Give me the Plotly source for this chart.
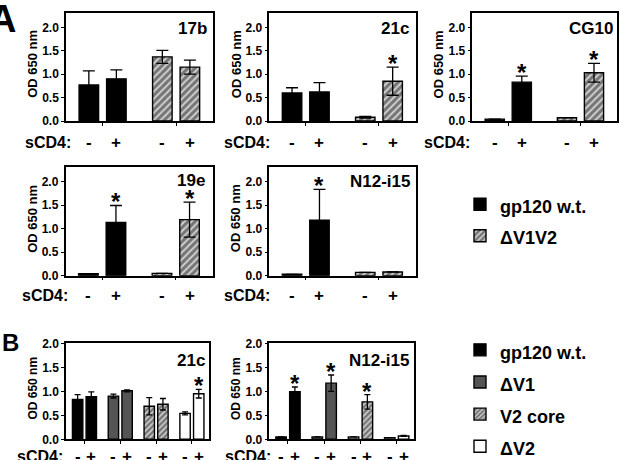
import plotly.graph_objects as go

W, H = 620, 460

# ---------------- data ----------------
sCD4_labels = ["-", "+"]
y_ticks = [0.0, 0.5, 1.0, 1.5, 2.0]

# Panel A  (OD 650 nm; first value = no sCD4, second = with sCD4)
a_17b_wt = [0.77, 0.90]
a_17b_wt_err = [0.30, 0.19]
a_17b_wt_sig = [0, 0]
a_17b_dv1v2 = [1.37, 1.15]
a_17b_dv1v2_err = [0.14, 0.15]
a_17b_dv1v2_sig = [0, 0]

a_21c_wt = [0.60, 0.62]
a_21c_wt_err = [0.11, 0.20]
a_21c_wt_sig = [0, 0]
a_21c_dv1v2 = [0.08, 0.85]
a_21c_dv1v2_err = [0.02, 0.30]
a_21c_dv1v2_sig = [0, 1]

a_cg10_wt = [0.04, 0.83]
a_cg10_wt_err = [None, 0.13]
a_cg10_wt_sig = [0, 1]
a_cg10_dv1v2 = [0.07, 1.03]
a_cg10_dv1v2_err = [None, 0.20]
a_cg10_dv1v2_sig = [0, 1]

a_19e_wt = [0.04, 1.13]
a_19e_wt_err = [None, 0.36]
a_19e_wt_sig = [0, 1]
a_19e_dv1v2 = [0.05, 1.19]
a_19e_dv1v2_err = [None, 0.37]
a_19e_dv1v2_sig = [0, 1]

a_n12_wt = [0.03, 1.18]
a_n12_wt_err = [None, 0.65]
a_n12_wt_sig = [0, 1]
a_n12_dv1v2 = [0.07, 0.08]
a_n12_dv1v2_err = [None, None]
a_n12_dv1v2_sig = [0, 0]

# Panel B
b_21c_wt = [0.83, 0.89]
b_21c_wt_err = [0.10, 0.10]
b_21c_wt_sig = [0, 0]
b_21c_dv1 = [0.90, 1.01]
b_21c_dv1_err = [0.04, 0.02]
b_21c_dv1_sig = [0, 0]
b_21c_v2core = [0.69, 0.73]
b_21c_v2core_err = [0.18, 0.12]
b_21c_v2core_sig = [0, 0]
b_21c_dv2 = [0.54, 0.95]
b_21c_dv2_err = [0.03, 0.09]
b_21c_dv2_sig = [0, 1]

b_n12_wt = [0.05, 0.99]
b_n12_wt_err = [None, 0.10]
b_n12_wt_sig = [0, 1]
b_n12_dv1 = [0.05, 1.17]
b_n12_dv1_err = [None, 0.17]
b_n12_dv1_sig = [0, 1]
b_n12_v2core = [0.05, 0.78]
b_n12_v2core_err = [None, 0.15]
b_n12_v2core_sig = [0, 1]
b_n12_dv2 = [0.035, 0.07]
b_n12_dv2_err = [None, 0.01]
b_n12_dv2_sig = [0, 0]

# ---------------- styles ----------------
FONT = "Liberation Sans, Arial, sans-serif"
hatch = dict(shape="/", fgcolor="#1a1a1a", bgcolor="#d0d0d0", size=5, solidity=0.62)
STYLE = {
    "gp120 w.t.": dict(color="#000000"),
    "ΔV1": dict(color="#555555"),
    "ΔV1V2": dict(color="#d0d0d0", pattern=hatch),
    "V2 core": dict(color="#d0d0d0", pattern=dict(hatch, size=4)),
    "ΔV2": dict(color="#ffffff"),
}

def xp(px):
    return px / W

def yp(py):
    return 1 - py / H

# layout of panels (positions in px)
panels = [
    dict(title="17b", kind="A", px=(66, 213), py=(13.3, 121), title_px=(208.5, 28.5),
         sc_right=73, lab_y=142.7, yt_x=31.7,
         series=[("gp120 w.t.", a_17b_wt, a_17b_wt_err, a_17b_wt_sig),
                 ("ΔV1V2", a_17b_dv1v2, a_17b_dv1v2_err, a_17b_dv1v2_sig)]),
    dict(title="21c", kind="A", px=(269.3, 415.7), py=(13.3, 121), title_px=(410.5, 28.5),
         sc_right=271.5, lab_y=142.7, yt_x=236,
         series=[("gp120 w.t.", a_21c_wt, a_21c_wt_err, a_21c_wt_sig),
                 ("ΔV1V2", a_21c_dv1v2, a_21c_dv1v2_err, a_21c_dv1v2_sig)]),
    dict(title="CG10", kind="A", px=(472.3, 616.7), py=(13.3, 121), title_px=(614.5, 28.5),
         sc_right=472, lab_y=142.7, yt_x=438.3,
         series=[("gp120 w.t.", a_cg10_wt, a_cg10_wt_err, a_cg10_wt_sig),
                 ("ΔV1V2", a_cg10_dv1v2, a_cg10_dv1v2_err, a_cg10_dv1v2_sig)]),
    dict(title="19e", kind="A", px=(65.5, 212.7), py=(167.3, 275.7), title_px=(207, 180.5),
         sc_right=70, lab_y=295.7, yt_x=32.3,
         series=[("gp120 w.t.", a_19e_wt, a_19e_wt_err, a_19e_wt_sig),
                 ("ΔV1V2", a_19e_dv1v2, a_19e_dv1v2_err, a_19e_dv1v2_sig)]),
    dict(title="N12-i15", kind="A", px=(269.3, 415.7), py=(167.3, 275.7), title_px=(412, 181.5),
         sc_right=271.5, lab_y=295.7, yt_x=235.7,
         series=[("gp120 w.t.", a_n12_wt, a_n12_wt_err, a_n12_wt_sig),
                 ("ΔV1V2", a_n12_dv1v2, a_n12_dv1v2_err, a_n12_dv1v2_sig)]),
    dict(title="21c", kind="B", px=(66, 209), py=(343.3, 439.3), title_px=(206.5, 360),
         sc_right=65, lab_y=456.7, yt_x=33.3,
         series=[("gp120 w.t.", b_21c_wt, b_21c_wt_err, b_21c_wt_sig),
                 ("ΔV1", b_21c_dv1, b_21c_dv1_err, b_21c_dv1_sig),
                 ("V2 core", b_21c_v2core, b_21c_v2core_err, b_21c_v2core_sig),
                 ("ΔV2", b_21c_dv2, b_21c_dv2_err, b_21c_dv2_sig)]),
    dict(title="N12-i15", kind="B", px=(269.3, 414), py=(343.3, 439.3), title_px=(410.5, 360),
         sc_right=273, lab_y=456.7, yt_x=236.7,
         series=[("gp120 w.t.", b_n12_wt, b_n12_wt_err, b_n12_wt_sig),
                 ("ΔV1", b_n12_dv1, b_n12_dv1_err, b_n12_dv1_sig),
                 ("V2 core", b_n12_v2core, b_n12_v2core_err, b_n12_v2core_sig),
                 ("ΔV2", b_n12_dv2, b_n12_dv2_err, b_n12_dv2_sig)]),
]

fig = go.Figure()
layout = dict(
    width=W, height=H, margin=dict(l=0, r=0, t=0, b=0, autoexpand=False),
    paper_bgcolor="white", plot_bgcolor="white",
    barmode="overlay", font=dict(family=FONT, color="black", weight="bold"),
    showlegend=True,
)
annotations = []
seen = set()

for i, p in enumerate(panels, start=1):
    xa = "xaxis" if i == 1 else f"xaxis{i}"
    ya = "yaxis" if i == 1 else f"yaxis{i}"
    xr = "x" if i == 1 else f"x{i}"
    yr = "y" if i == 1 else f"y{i}"
    if p["kind"] == "A":
        gap, bw, xrange_, yrange_, cap, ytf, ttf = 2.67, 0.71, [-1.33, 4.01], [0, 2.3], 6, 13, 12
        legend = "legend"
    else:
        gap, bw, xrange_, yrange_, cap, ytf, ttf = 2.62, 0.76, [-1.35, 9.11], [0, 2.0], 3, 12, 12
        legend = "legend2"
    centers = [g * gap for g in range(len(p["series"]))]

    for g, (name, mean, err, sig) in enumerate(p["series"]):
        pos = [centers[g] - 0.5, centers[g] + 0.5]
        st = STYLE[name]
        marker = dict(color=st["color"], line=dict(color="black", width=1.4))
        if "pattern" in st:
            marker["pattern"] = st["pattern"]
        key = (legend, name)
        fig.add_trace(go.Bar(
            x=pos, y=mean, width=bw,
            name=f"<span style='font-size:18px'>{name}</span>", marker=marker,
            error_y=dict(type="data", array=err, color="black", thickness=1.3, width=cap),
            xaxis=xr, yaxis=yr, legend=legend,
            showlegend=key not in seen,
        ))
        seen.add(key)
        for k in range(2):
            annotations.append(dict(
                x=pos[k], y=yp(p["lab_y"]), xref=xr, yref="paper", text=sCD4_labels[k],
                showarrow=False, xanchor="center", yanchor="middle",
                font=dict(size=17, family=FONT, weight="bold")))
            if sig[k]:
                top = mean[k] + (err[k] or 0)
                annotations.append(dict(
                    x=pos[k], y=top, xref=xr, yref=yr, text="*", showarrow=False,
                    xanchor="center", yanchor="bottom", yshift=-12,
                    font=dict(size=24, family=FONT, weight="bold")))

    layout[xa] = dict(domain=[xp(p["px"][0]), xp(p["px"][1])], range=xrange_, anchor=yr,
                      showline=True, mirror=True, linecolor="black", linewidth=1.5,
                      showgrid=False, zeroline=False, tickmode="array",
                      tickvals=[c for c in centers], ticks="outside", ticklen=3,
                      tickcolor="black", showticklabels=False, automargin=False,
                      fixedrange=True)
    layout[ya] = dict(domain=[yp(p["py"][1]), yp(p["py"][0])], range=yrange_, anchor=xr,
                      showline=True, mirror=True, linecolor="black", linewidth=1.5,
                      showgrid=False, zeroline=False, tickmode="array", tickvals=y_ticks,
                      tickformat=".1f", ticks="outside", ticklen=3, tickcolor="black",
                      tickfont=dict(size=ttf, family=FONT, weight="bold"),
                      automargin=False, fixedrange=True)

    # panel title
    annotations.append(dict(x=xp(p["title_px"][0]), y=yp(p["title_px"][1]), xref="paper",
                            yref="paper", text=p["title"], showarrow=False,
                            xanchor="right", yanchor="middle",
                            font=dict(size=17, family=FONT, weight="bold")))
    # y title
    annotations.append(dict(x=xp(p["yt_x"]), y=(yp(p["py"][0]) + yp(p["py"][1])) / 2 + 3 / H,
                            xref="paper", yref="paper", text="OD 650 nm", textangle=-90,
                            showarrow=False, xanchor="center", yanchor="middle",
                            font=dict(size=ytf, family=FONT, weight="bold")))
    # sCD4 label
    annotations.append(dict(x=xp(p["sc_right"]), y=yp(p["lab_y"]), xref="paper", yref="paper",
                            text="sCD4:", showarrow=False, xanchor="right", yanchor="middle",
                            font=dict(size=16, family=FONT, weight="bold")))

# panel letters
annotations.append(dict(x=xp(18), y=yp(-4), xref="paper", yref="paper", text="A",
                        showarrow=False, xanchor="right", yanchor="top",
                        font=dict(size=38, family=FONT, weight="bold")))
annotations.append(dict(x=xp(0), y=yp(327), xref="paper", yref="paper", text="B",
                        showarrow=False, xanchor="left", yanchor="top",
                        font=dict(size=24, family=FONT, weight="bold")))

layout["annotations"] = annotations
layout["legend"] = dict(x=xp(460), y=yp(183.5), xanchor="left", yanchor="top",
                        font=dict(size=21.9, family=FONT, weight="bold"),
                        traceorder="normal", bgcolor="rgba(0,0,0,0)")
layout["legend2"] = dict(x=xp(460), y=yp(328.8), xanchor="left", yanchor="top",
                         font=dict(size=22.4, family=FONT, weight="bold"),
                         traceorder="normal", bgcolor="rgba(0,0,0,0)")

fig.update_layout(**layout)
fig.write_html("out.html")
